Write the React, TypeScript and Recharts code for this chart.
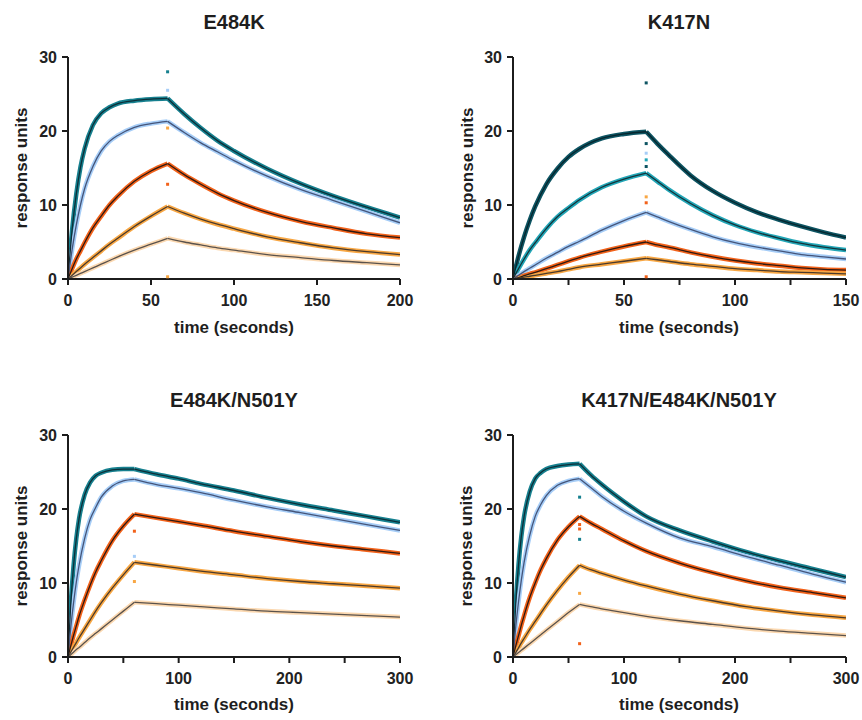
import React from 'react';
import { ComposedChart, Line, Scatter, XAxis, YAxis } from 'recharts';

const FONT = '"Liberation Sans", Arial, Helvetica, sans-serif';

// ---- E484K (0-200 s) ----
const e484kOnT = [0, 2.5, 5, 7.5, 10, 15, 20, 25, 30, 40, 50, 60];
const e484kOffT = [60, 70, 80, 90, 100, 120, 140, 160, 180, 200];
const e484kTealOn = [0, 6.7, 11.5, 15.1, 17.6, 20.8, 22.4, 23.2, 23.7, 24.1, 24.3, 24.4];
const e484kTealOff = [24.4, 22.3, 20.4, 18.7, 17.3, 14.9, 12.9, 11.2, 9.7, 8.3];
const e484kBlueOn = [0, 4.0, 7.3, 10.0, 12.2, 15.2, 17.3, 18.6, 19.4, 20.5, 21.0, 21.3];
const e484kBlueOff = [21.3, 19.8, 18.4, 17.2, 16.0, 13.9, 12.1, 10.6, 9.1, 7.6];
const e484kRedOn = [0, 1.4, 2.7, 3.8, 4.9, 6.9, 8.5, 10.0, 11.2, 13.2, 14.6, 15.6];
const e484kRedOff = [15.6, 14.1, 12.8, 11.6, 10.6, 9.0, 7.8, 6.9, 6.1, 5.6];
const e484kOrangeOn = [0, 0.5, 1.0, 1.5, 2.0, 2.9, 3.8, 4.7, 5.5, 7.1, 8.5, 9.8];
const e484kOrangeOff = [9.8, 8.9, 8.1, 7.4, 6.8, 5.7, 4.9, 4.2, 3.7, 3.3];
const e484kPeachOn = [0, 0.25, 0.5, 0.75, 1.0, 1.5, 2.0, 2.5, 3.0, 3.9, 4.7, 5.5];
const e484kPeachOff = [5.5, 5.0, 4.6, 4.2, 3.9, 3.3, 2.9, 2.5, 2.2, 1.9];
const e484kSpikes = [28.0, 25.5, 20.4, 12.8, 0.3];
const e484kSpikeColors = ['teal', 'lightBlue', 'orange', 'orangeRed', 'orange'];

// ---- K417N (0-150 s) ----
const k417nOnT = [0, 2.5, 5, 7.5, 10, 15, 20, 25, 30, 40, 50, 60];
const k417nOffT = [60, 65, 70, 80, 90, 100, 110, 120, 130, 140, 150];
const k417nDarkOn = [0, 3.1, 5.7, 7.9, 9.8, 12.8, 14.9, 16.5, 17.6, 19.0, 19.6, 19.9];
const k417nDarkOff = [19.9, 18.3, 16.8, 14.0, 11.9, 10.3, 9.0, 8.0, 7.1, 6.3, 5.6];
const k417nCyanOn = [0, 1.4, 2.7, 3.9, 4.9, 6.8, 8.4, 9.6, 10.7, 12.4, 13.5, 14.3];
const k417nCyanOff = [14.3, 13.2, 12.1, 10.2, 8.6, 7.3, 6.3, 5.5, 4.8, 4.3, 3.9];
const k417nBlueOn = [0, 0.5, 1.0, 1.45, 1.9, 2.8, 3.6, 4.4, 5.1, 6.6, 7.9, 9.0];
const k417nBlueOff = [9.0, 8.4, 7.8, 6.7, 5.7, 4.9, 4.3, 3.8, 3.3, 3.0, 2.7];
const k417nRedOn = [0, 0.2, 0.45, 0.7, 0.9, 1.4, 1.9, 2.4, 2.9, 3.7, 4.4, 5.0];
const k417nRedOff = [5.0, 4.6, 4.3, 3.6, 3.0, 2.5, 2.1, 1.8, 1.5, 1.3, 1.2];
const k417nOrangeOn = [0, 0.1, 0.25, 0.37, 0.5, 0.75, 1.0, 1.3, 1.6, 2.0, 2.4, 2.8];
const k417nOrangeOff = [2.8, 2.6, 2.4, 2.0, 1.7, 1.4, 1.2, 1.0, 0.9, 0.8, 0.7];
const k417nSpikes = [26.5, 18.3, 17.0, 16.1, 15.2, 11.1, 10.3, 0.3];
const k417nSpikeColors = ['darkTeal', 'darkTeal', 'lightBlue', 'cyan', 'darkTeal', 'orange', 'orangeRed', 'orangeRed'];

// ---- E484K/N501Y (0-300 s) ----
const en501OnT = [0, 2.5, 5, 7.5, 10, 15, 20, 25, 30, 40, 50, 60];
const en501OffT = [60, 80, 100, 120, 150, 180, 210, 240, 270, 300];
const en501TealOn = [0, 7.2, 12.3, 16.0, 18.7, 21.9, 23.6, 24.5, 24.9, 25.3, 25.4, 25.4];
const en501TealOff = [25.4, 24.7, 24.1, 23.4, 22.5, 21.5, 20.6, 19.8, 19.0, 18.2];
const en501BlueOn = [0, 4.0, 7.3, 10.1, 12.4, 16.0, 18.6, 20.2, 21.6, 23.1, 23.8, 24.0];
const en501BlueOff = [24.0, 23.3, 22.8, 22.2, 21.2, 20.3, 19.5, 18.7, 17.9, 17.1];
const en501RedOn = [0, 1.5, 2.9, 4.2, 5.5, 7.7, 9.7, 11.5, 13.0, 15.7, 17.7, 19.3];
const en501RedOff = [19.3, 18.8, 18.3, 17.8, 17.0, 16.3, 15.6, 15.0, 14.5, 14.0];
const en501OrangeOn = [0, 0.65, 1.3, 1.95, 2.6, 3.8, 5.0, 6.2, 7.3, 9.3, 11.1, 12.8];
const en501OrangeOff = [12.8, 12.4, 12.0, 11.6, 11.1, 10.6, 10.2, 9.9, 9.6, 9.3];
const en501PeachOn = [0, 0.3, 0.65, 1.0, 1.3, 1.95, 2.6, 3.2, 3.8, 5.0, 6.2, 7.4];
const en501PeachOff = [7.4, 7.2, 7.0, 6.8, 6.5, 6.2, 6.0, 5.8, 5.6, 5.4];
const en501Spikes = [17.0, 13.6, 10.2];
const en501SpikeColors = ['orangeRed', 'lightBlue', 'orange'];

// ---- K417N/E484K/N501Y (0-300 s) ----
const triOnT = [0, 2.5, 5, 7.5, 10, 15, 20, 25, 30, 40, 50, 60];
const triOffT = [60, 70, 80, 100, 120, 150, 180, 210, 240, 270, 300];
const triTealOn = [0, 7.3, 12.5, 16.3, 19.0, 22.3, 24.1, 24.9, 25.4, 25.8, 26.0, 26.1];
const triTealOff = [26.1, 24.6, 23.3, 21.0, 19.0, 17.1, 15.6, 14.2, 13.0, 11.9, 10.8];
const triBlueOn = [0, 4.1, 7.5, 10.4, 12.8, 16.4, 19.0, 20.6, 21.8, 23.2, 23.8, 24.1];
const triBlueOff = [24.1, 22.9, 21.7, 19.7, 18.1, 16.1, 14.9, 13.6, 12.4, 11.2, 10.1];
const triRedOn = [0, 1.5, 2.9, 4.3, 5.6, 8.0, 10.0, 11.8, 13.3, 15.8, 17.6, 19.0];
const triRedOff = [19.0, 18.1, 17.3, 15.7, 14.3, 12.7, 11.4, 10.3, 9.4, 8.7, 8.0];
const triOrangeOn = [0, 0.6, 1.25, 1.9, 2.5, 3.7, 4.8, 5.9, 7.0, 9.0, 10.8, 12.4];
const triOrangeOff = [12.4, 11.8, 11.3, 10.4, 9.6, 8.5, 7.6, 6.8, 6.2, 5.7, 5.3];
const triPeachOn = [0, 0.3, 0.6, 0.9, 1.2, 1.8, 2.4, 3.0, 3.6, 4.8, 6.0, 7.1];
const triPeachOff = [7.1, 6.8, 6.5, 6.0, 5.5, 4.9, 4.4, 3.9, 3.5, 3.2, 2.9];
const triSpikes = [21.6, 17.9, 17.3, 15.9, 8.6, 1.8];
const triSpikeColors = ['teal', 'orangeRed', 'orangeRed', 'teal', 'orange', 'orangeRed'];

const yTicks = [0, 10, 20, 30];

const COLORS: Record<string, string> = {
  teal: '#16808f',
  darkTeal: '#0d5462',
  cyan: '#22a6b7',
  lightBlue: '#a6cdf7',
  orangeRed: '#f2621a',
  orange: '#f8a744',
  peach: '#fbd8b0',
};

const FITS: Record<string, string> = {
  teal: '#0d2f38',
  darkTeal: '#06262e',
  cyan: '#14343a',
  lightBlue: '#45557a',
  orangeRed: '#2e1a12',
  orange: '#4a3a2c',
  peach: '#5a524c',
};

type Pt = { t: number; v: number };
type Series = { color: string; on: Pt[]; off: Pt[] };

const zip = (ts: number[], vs: number[]): Pt[] => ts.map((t, i) => ({ t, v: vs[i] }));

const mk = (color: string, onT: number[], on: number[], offT: number[], off: number[]): Series => ({
  color,
  on: zip(onT, on),
  off: zip(offT, off),
});

const axisColor = '#1c1c1c';
const tickStyle = { fontFamily: FONT, fontSize: 16, fontWeight: 700, fill: '#222' };

interface PanelProps {
  left: number;
  top: number;
  height: number;
  margin: { top: number; right: number; bottom: number; left: number };
  xMax: number;
  xTicks: number[];
  xLabels: number[];
  series: Series[];
  spikes: number[];
  spikeColors: string[];
}

const Panel: React.FC<PanelProps> = ({ left, top, height, margin, xMax, xTicks, xLabels, series, spikes, spikeColors }) => (
  <div style={{ position: 'absolute', left, top }}>
    <ComposedChart width={431} height={height} margin={margin}>
      <XAxis
        type="number"
        dataKey="t"
        domain={[0, xMax]}
        ticks={xTicks}
        tickFormatter={(v: number) => (xLabels.includes(v) ? String(v) : '')}
        allowDataOverflow
        height={50}
        tickSize={6}
        tickMargin={10}
        stroke={axisColor}
        strokeWidth={2}
        tick={tickStyle}
      />
      <YAxis
        type="number"
        dataKey="v"
        domain={[0, 30]}
        ticks={yTicks}
        allowDataOverflow
        width={40}
        tickSize={6}
        tickMargin={5}
        stroke={axisColor}
        strokeWidth={2}
        tick={tickStyle}
      />
      {series.map((s, i) =>
        [s.on, s.off].map((d, j) => (
          <Line
            key={`d${i}${j}`}
            data={d}
            dataKey="v"
            type="monotone"
            stroke={COLORS[s.color]}
            strokeWidth={4.5}
            strokeLinejoin="round"
            dot={false}
            isAnimationActive={false}
          />
        ))
      )}
      {spikes.map((v, i) => (
        <Scatter
          key={`s${i}`}
          data={[{ t: 60, v }]}
          dataKey="v"
          isAnimationActive={false}
          shape={(p: any) => (
            <rect x={p.cx - 1.5} y={p.cy - 1.5} width={3} height={3} fill={COLORS[spikeColors[i]]} />
          )}
        />
      ))}
      {series.map((s, i) =>
        [s.on, s.off].map((d, j) => (
          <Line
            key={`f${i}${j}`}
            data={d}
            dataKey="v"
            type="monotone"
            stroke={FITS[s.color]}
            strokeWidth={1.3}
            dot={false}
            isAnimationActive={false}
          />
        ))
      )}
    </ComposedChart>
  </div>
);

const Txt: React.FC<{ x: number; y: number; size: number; rotate?: boolean; children: React.ReactNode }> = ({
  x,
  y,
  size,
  rotate,
  children,
}) => (
  <div
    style={{
      position: 'absolute',
      left: x,
      top: y,
      transform: `translate(-50%, -50%)${rotate ? ' rotate(-90deg)' : ''}`,
      fontFamily: FONT,
      fontWeight: 700,
      fontSize: size,
      lineHeight: 1,
      color: '#1e1e1e',
      whiteSpace: 'nowrap',
    }}
  >
    {children}
  </div>
);

export default function App() {
  const p1 = [
    mk('teal', e484kOnT, e484kTealOn, e484kOffT, e484kTealOff),
    mk('lightBlue', e484kOnT, e484kBlueOn, e484kOffT, e484kBlueOff),
    mk('orangeRed', e484kOnT, e484kRedOn, e484kOffT, e484kRedOff),
    mk('orange', e484kOnT, e484kOrangeOn, e484kOffT, e484kOrangeOff),
    mk('peach', e484kOnT, e484kPeachOn, e484kOffT, e484kPeachOff),
  ];
  const p2 = [
    mk('darkTeal', k417nOnT, k417nDarkOn, k417nOffT, k417nDarkOff),
    mk('cyan', k417nOnT, k417nCyanOn, k417nOffT, k417nCyanOff),
    mk('lightBlue', k417nOnT, k417nBlueOn, k417nOffT, k417nBlueOff),
    mk('orangeRed', k417nOnT, k417nRedOn, k417nOffT, k417nRedOff),
    mk('orange', k417nOnT, k417nOrangeOn, k417nOffT, k417nOrangeOff),
  ];
  const p3 = [
    mk('teal', en501OnT, en501TealOn, en501OffT, en501TealOff),
    mk('lightBlue', en501OnT, en501BlueOn, en501OffT, en501BlueOff),
    mk('orangeRed', en501OnT, en501RedOn, en501OffT, en501RedOff),
    mk('orange', en501OnT, en501OrangeOn, en501OffT, en501OrangeOff),
    mk('peach', en501OnT, en501PeachOn, en501OffT, en501PeachOff),
  ];
  const p4 = [
    mk('teal', triOnT, triTealOn, triOffT, triTealOff),
    mk('lightBlue', triOnT, triBlueOn, triOffT, triBlueOff),
    mk('orangeRed', triOnT, triRedOn, triOffT, triRedOff),
    mk('orange', triOnT, triOrangeOn, triOffT, triOrangeOff),
    mk('peach', triOnT, triPeachOn, triOffT, triPeachOff),
  ];

  return (
    <div style={{ position: 'absolute', left: 0, top: 0, width: 862, height: 720, background: '#fff' }}>
      <Panel
        left={0}
        top={0}
        height={340}
        margin={{ top: 57, right: 31, bottom: 11, left: 28 }}
        xMax={200}
        xTicks={[0, 50, 100, 150, 200]}
        xLabels={[0, 50, 100, 150, 200]}
        series={p1}
        spikes={e484kSpikes}
        spikeColors={e484kSpikeColors}
      />
      <Panel
        left={431}
        top={0}
        height={340}
        margin={{ top: 57, right: 16, bottom: 11, left: 42 }}
        xMax={150}
        xTicks={[0, 25, 50, 75, 100, 125, 150]}
        xLabels={[0, 50, 100, 150]}
        series={p2}
        spikes={k417nSpikes}
        spikeColors={k417nSpikeColors}
      />
      <Panel
        left={0}
        top={360}
        height={360}
        margin={{ top: 75, right: 31, bottom: 13, left: 28 }}
        xMax={300}
        xTicks={[0, 50, 100, 150, 200, 250, 300]}
        xLabels={[0, 100, 200, 300]}
        series={p3}
        spikes={en501Spikes}
        spikeColors={en501SpikeColors}
      />
      <Panel
        left={431}
        top={360}
        height={360}
        margin={{ top: 75, right: 16, bottom: 13, left: 42 }}
        xMax={300}
        xTicks={[0, 50, 100, 150, 200, 250, 300]}
        xLabels={[0, 100, 200, 300]}
        series={p4}
        spikes={triSpikes}
        spikeColors={triSpikeColors}
      />

      <Txt x={234} y={22} size={20}>E484K</Txt>
      <Txt x={679} y={22} size={20}>K417N</Txt>
      <Txt x={234} y={400} size={20}>E484K/N501Y</Txt>
      <Txt x={679} y={400} size={20}>K417N/E484K/N501Y</Txt>

      <Txt x={234} y={327} size={17}>time (seconds)</Txt>
      <Txt x={679} y={327} size={17}>time (seconds)</Txt>
      <Txt x={234} y={704} size={17}>time (seconds)</Txt>
      <Txt x={679} y={704} size={17}>time (seconds)</Txt>

      <Txt x={21} y={168} size={17} rotate>response units</Txt>
      <Txt x={467} y={168} size={17} rotate>response units</Txt>
      <Txt x={21} y={546} size={17} rotate>response units</Txt>
      <Txt x={466} y={546} size={17} rotate>response units</Txt>
    </div>
  );
}
